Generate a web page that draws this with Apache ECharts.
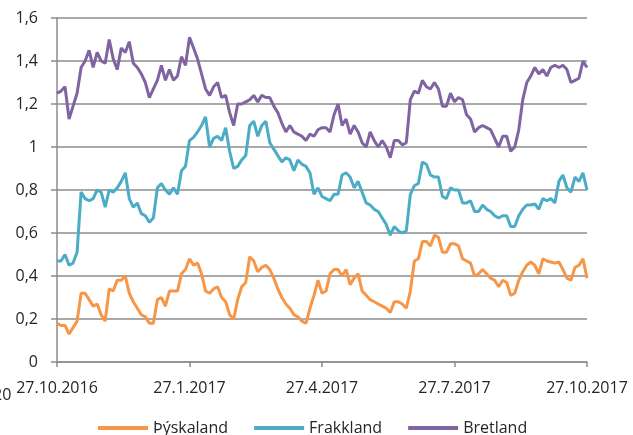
<!DOCTYPE html>
<html>
<head>
<meta charset="utf-8">
<script src="https://cdn.jsdelivr.net/npm/echarts@6/dist/echarts.min.js"></script>
<style>
html,body{margin:0;padding:0;background:#fff;}
#chart{width:633px;height:435px;}
</style>
</head>
<body>
<div id="chart"></div>
<script>
// Tick labels shown on the x axis (every 33rd point)
const tickLabels = ["27.10.2016", "27.1.2017", "27.4.2017", "27.7.2017", "27.10.2017"];
const tickEvery = 33;

const seriesNames = ["Þýskaland", "Frakkland", "Bretland"];

const thyskaland = [
  0.18,0.17,0.17,0.13,0.16,0.19,0.32,0.32,0.29,0.26,0.27,0.22,0.19,0.34,0.33,0.38,0.38,0.40,0.32,0.28,
  0.25,0.22,0.21,0.18,0.18,0.29,0.30,0.26,0.33,0.33,0.33,0.41,0.43,0.48,0.45,0.46,0.41,0.33,0.32,0.34,
  0.35,0.30,0.28,0.22,0.20,0.29,0.35,0.37,0.49,0.47,0.42,0.44,0.45,0.43,0.39,0.34,0.30,0.27,0.25,0.22,
  0.21,0.19,0.18,0.25,0.31,0.38,0.32,0.33,0.41,0.43,0.43,0.40,0.43,0.36,0.39,0.41,0.33,0.31,0.29,0.28,
  0.27,0.26,0.25,0.23,0.28,0.28,0.27,0.25,0.33,0.47,0.48,0.56,0.56,0.54,0.59,0.58,0.51,0.51,0.55,0.55,
  0.54,0.48,0.47,0.46,0.40,0.41,0.43,0.41,0.39,0.38,0.35,0.38,0.37,0.31,0.32,0.38,0.42,0.45,0.465,0.45,
  0.41,0.48,0.47,0.465,0.46,0.465,0.43,0.39,0.38,0.44,0.45,0.48,0.39
];

const frakkland = [
  0.47,0.47,0.50,0.45,0.46,0.51,0.79,0.76,0.75,0.76,0.80,0.79,0.72,0.80,0.79,0.81,0.84,0.88,0.76,0.72,
  0.74,0.69,0.68,0.65,0.67,0.81,0.83,0.80,0.78,0.81,0.78,0.89,0.91,1.03,1.045,1.07,1.10,1.14,1.00,1.04,
  1.05,1.03,1.09,0.98,0.90,0.91,0.94,0.96,1.10,1.12,1.05,1.10,1.12,1.02,0.99,0.96,0.93,0.95,0.94,0.89,
  0.94,0.92,0.91,0.88,0.78,0.81,0.77,0.76,0.75,0.78,0.78,0.87,0.88,0.86,0.81,0.84,0.79,0.74,0.73,0.71,
  0.70,0.67,0.64,0.59,0.63,0.61,0.60,0.61,0.78,0.82,0.83,0.93,0.92,0.87,0.86,0.86,0.77,0.76,0.81,0.80,
  0.80,0.74,0.74,0.75,0.70,0.70,0.73,0.71,0.70,0.68,0.67,0.68,0.68,0.63,0.63,0.68,0.71,0.73,0.73,0.735,
  0.71,0.76,0.75,0.76,0.74,0.84,0.87,0.81,0.79,0.86,0.84,0.88,0.80
];

const bretland = [
  1.25,1.26,1.28,1.13,1.19,1.25,1.37,1.40,1.45,1.37,1.44,1.40,1.39,1.50,1.41,1.36,1.46,1.44,1.49,1.39,
  1.37,1.34,1.30,1.23,1.27,1.31,1.38,1.31,1.36,1.31,1.33,1.42,1.38,1.51,1.46,1.41,1.34,1.27,1.24,1.28,
  1.30,1.23,1.24,1.16,1.10,1.20,1.20,1.21,1.22,1.24,1.21,1.24,1.23,1.23,1.19,1.16,1.11,1.07,1.10,1.07,
  1.06,1.05,1.03,1.06,1.05,1.08,1.09,1.09,1.07,1.15,1.20,1.10,1.13,1.06,1.10,1.07,1.02,1.00,1.07,1.03,
  1.00,1.03,1.00,0.95,1.03,1.03,1.01,1.02,1.22,1.26,1.25,1.31,1.28,1.27,1.30,1.27,1.19,1.19,1.25,1.21,
  1.23,1.22,1.15,1.13,1.07,1.09,1.10,1.09,1.08,1.04,1.00,1.05,1.05,0.98,1.00,1.08,1.22,1.30,1.33,1.37,
  1.34,1.36,1.33,1.37,1.38,1.37,1.38,1.36,1.30,1.31,1.32,1.40,1.37
];

const colors = ["#F79646", "#4BACC6", "#8064A2"];

const categories = thyskaland.map((_, i) => String(i));

const FONT = "'Open Sans', 'Liberation Sans', sans-serif";
const gridColor = "#8c8c8c";

const chart = echarts.init(document.getElementById('chart'), null, {renderer: 'canvas'});

chart.setOption({
  animation: false,
  color: colors,
  textStyle: {fontFamily: FONT},
  grid: {left: 57, right: 46, top: 18, bottom: 73, containLabel: false},
  legend: {
    data: seriesNames,
    left: 98,
    top: 420,
    padding: 0,
    icon: 'rect',
    itemWidth: 50,
    itemHeight: 4,
    itemGap: 26,
    textStyle: {fontFamily: FONT, fontSize: 16, color: '#262626'},
  },
  xAxis: {
    type: 'category',
    data: categories,
    boundaryGap: false,
    axisLine: {show: true, lineStyle: {color: gridColor, width: 1.5}},
    axisTick: {show: true, length: 5, interval: tickEvery - 1, lineStyle: {color: gridColor, width: 1.5}},
    axisLabel: {
      interval: tickEvery - 1,
      margin: 18,
      fontFamily: FONT,
      fontSize: 16,
      color: '#262626',
      formatter: (v, i) => tickLabels[Math.round(i / tickEvery)] || ''
    },
    splitLine: {show: false}
  },
  yAxis: {
    type: 'value',
    min: 0,
    max: 1.6,
    interval: 0.2,
    axisLine: {show: true, lineStyle: {color: gridColor, width: 1.5}},
    axisTick: {show: true, length: 6, lineStyle: {color: gridColor, width: 1.5}},
    axisLabel: {
      margin: 19,
      fontFamily: FONT,
      fontSize: 16,
      color: '#262626',
      formatter: v => String(+v.toFixed(1)).replace('.', ',')
    },
    splitLine: {show: true, lineStyle: {color: gridColor, width: 1.5}}
  },
  graphic: [{
    type: 'text',
    left: -7,
    top: 387,
    style: {text: '20', fontFamily: FONT, fontSize: 16, fill: '#262626'}
  }],
  series: [
    {name: seriesNames[0], type: 'line', data: thyskaland, showSymbol: false, lineStyle: {width: 3, color: colors[0]}, itemStyle: {color: colors[0]}},
    {name: seriesNames[1], type: 'line', data: frakkland, showSymbol: false, lineStyle: {width: 3, color: colors[1]}, itemStyle: {color: colors[1]}},
    {name: seriesNames[2], type: 'line', data: bretland, showSymbol: false, lineStyle: {width: 3, color: colors[2]}, itemStyle: {color: colors[2]}}
  ]
});
</script>
</body>
</html>
